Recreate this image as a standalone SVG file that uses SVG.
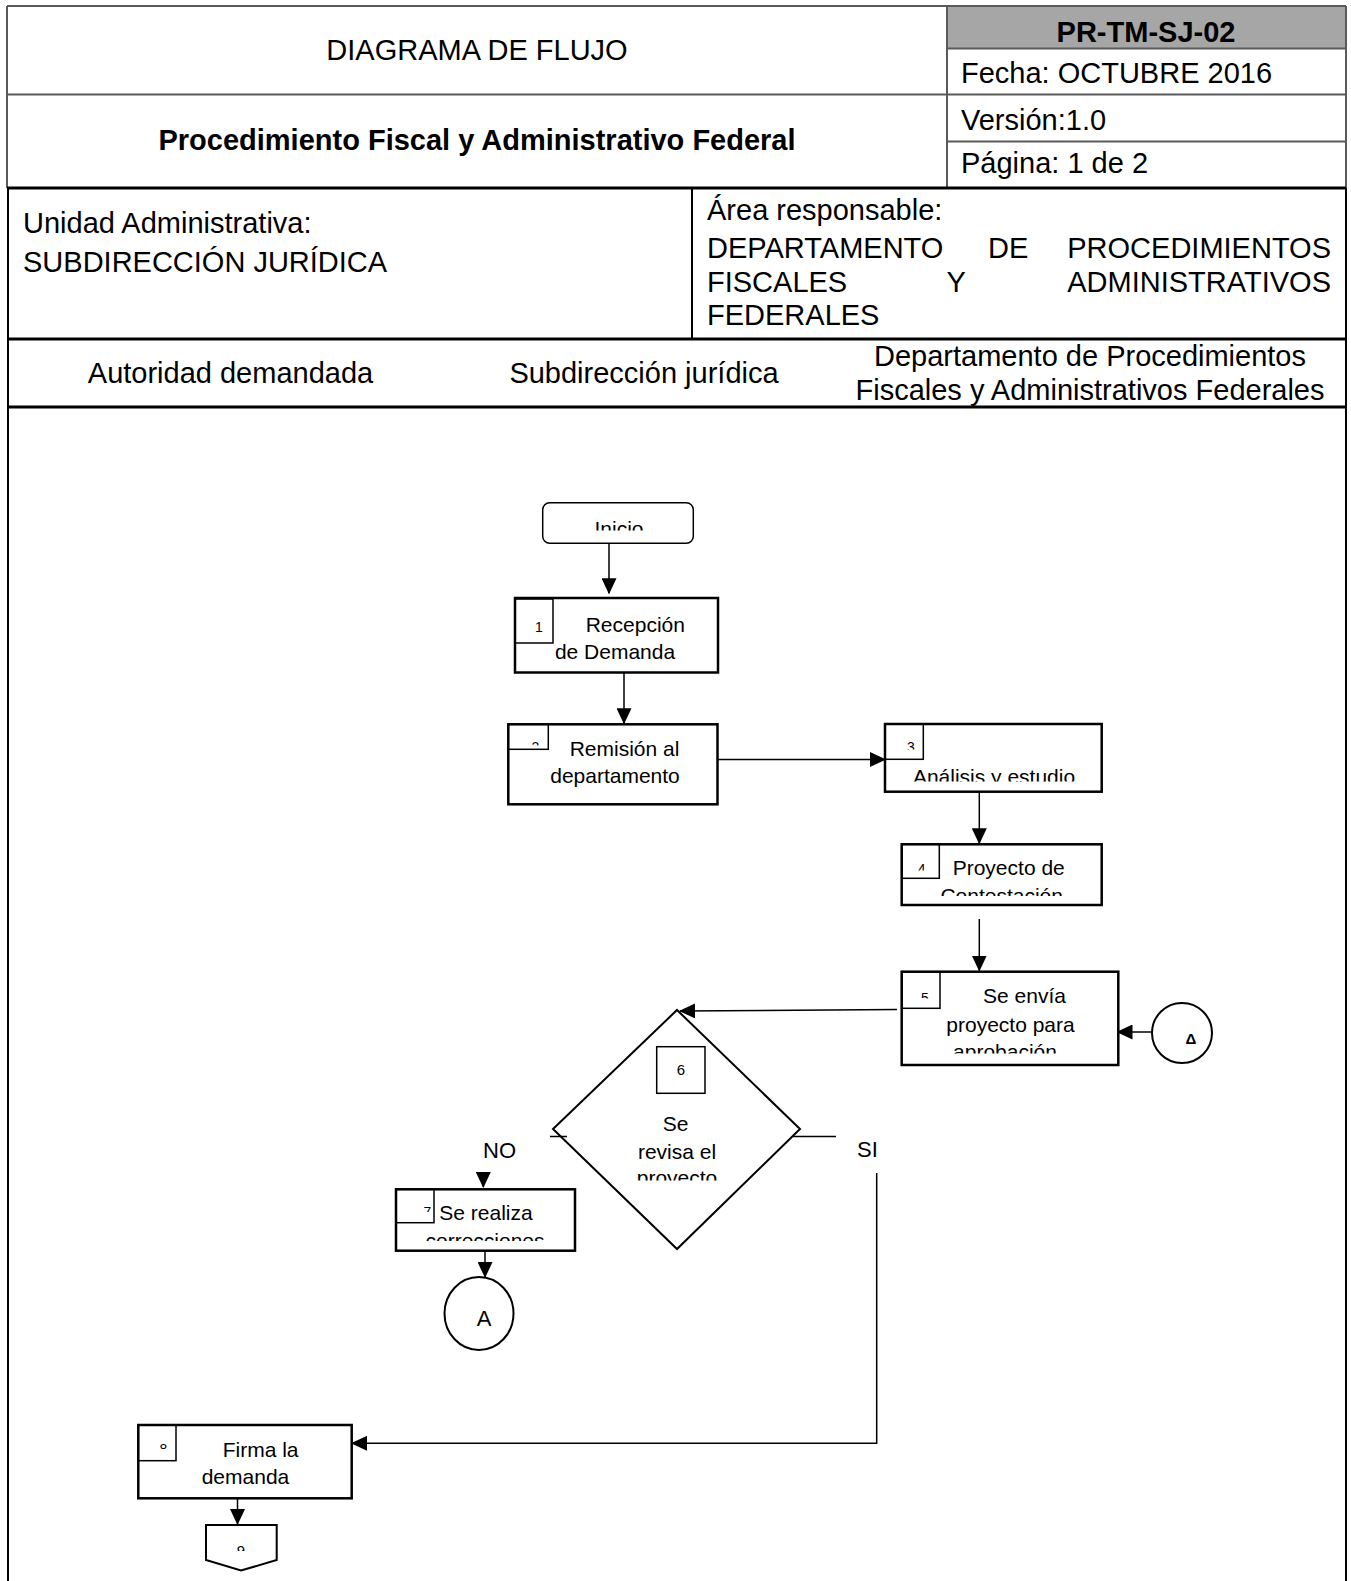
<svg xmlns="http://www.w3.org/2000/svg" width="1351" height="1581" viewBox="0 0 1351 1581">
<defs>
<style>
text{font-family:"Liberation Sans",Arial,sans-serif;fill:#000}
.h{font-size:29px}
.hb{font-size:29px;font-weight:bold}
.n{font-size:21px}
.d{font-size:14px}
.m{text-anchor:middle}
.e{text-anchor:end}
.box{fill:#fff;stroke:#000;stroke-width:2.5}
.nb{fill:none;stroke:#000;stroke-width:1.5}
.c{fill:none;stroke:#000;stroke-width:1.5}
.ca{fill:none;stroke:#000;stroke-width:1.5;marker-end:url(#ah)}
.g{stroke:#5a5a5a;stroke-width:2;fill:none}
.k{stroke:#000;fill:none}
</style>
<marker id="ah" markerWidth="16" markerHeight="15" refX="15" refY="7.5" orient="auto" markerUnits="userSpaceOnUse"><path d="M0,0 L16,7.5 L0,15 z" fill="#000"/></marker>
<clipPath id="c-ini"><rect x="544" y="504" width="148" height="26.5"/></clipPath>
<clipPath id="c-2"><rect x="509" y="725" width="39" height="20.5"/></clipPath>
<clipPath id="c-3"><rect x="886" y="725" width="36" height="24.5"/></clipPath>
<clipPath id="c-3t"><rect x="886" y="760" width="215" height="21.5"/></clipPath>
<clipPath id="c-4"><rect x="902" y="845" width="37" height="25.5"/></clipPath>
<clipPath id="c-4t"><rect x="902" y="880" width="199" height="16"/></clipPath>
<clipPath id="c-5"><rect x="902" y="972" width="38" height="26.5"/></clipPath>
<clipPath id="c-5t"><rect x="902" y="1035" width="216" height="18.5"/></clipPath>
<clipPath id="c-6t"><rect x="600" y="1165" width="160" height="15.5"/></clipPath>
<clipPath id="c-7"><rect x="397" y="1190" width="37" height="22"/></clipPath>
<clipPath id="c-7t"><rect x="397" y="1225" width="178" height="16"/></clipPath>
<clipPath id="c-8"><rect x="139" y="1426" width="37" height="23"/></clipPath>
<clipPath id="c-9"><rect x="207" y="1526" width="69" height="25"/></clipPath>
</defs>
<rect x="0" y="0" width="1351" height="1581" fill="#fff"/>

<g id="header">
<rect x="947" y="6" width="399" height="42.5" fill="#a6a6a6"/>
<path class="g" d="M7,6 H1346 M7,6 V188 M1346,6 V188 M947,6 V188 M947,48.5 H1346 M7,94.5 H1346 M947,141.5 H1346"/>
<path class="k" stroke-width="3" d="M7,188 H1346 M7,339 H1346 M7,407 H1346"/>
<path class="k" stroke-width="2" d="M8,188 V1581 M1346,188 V1581 M692,188 V339"/>
<text class="h m" x="477" y="60">DIAGRAMA DE FLUJO</text>
<text class="hb m" x="477" y="150">Procedimiento Fiscal y Administrativo Federal</text>
<text class="hb m" x="1146" y="42">PR-TM-SJ-02</text>
<text class="h" x="961" y="83">Fecha: OCTUBRE 2016</text>
<text class="h" x="961" y="130">Versión:1.0</text>
<text class="h" x="961" y="173">Página: 1 de 2</text>
<text class="h" x="23" y="233">Unidad Administrativa:</text>
<text class="h" x="23" y="271.5">SUBDIRECCIÓN JURÍDICA</text>
<text class="h" x="707" y="220">Área responsable:</text>
<text class="h" x="707" y="258">DEPARTAMENTO</text>
<text class="h" x="988" y="258">DE</text>
<text class="h e" x="1331" y="258">PROCEDIMIENTOS</text>
<text class="h" x="707" y="291.5">FISCALES</text>
<text class="h" x="946.5" y="291.5">Y</text>
<text class="h e" x="1331" y="291.5">ADMINISTRATIVOS</text>
<text class="h" x="707" y="325">FEDERALES</text>
<text class="h m" x="230.5" y="383">Autoridad demandada</text>
<text class="h m" x="644" y="383">Subdirección jurídica</text>
<text class="h m" x="1090" y="366">Departamento de Procedimientos</text>
<text class="h m" x="1090" y="400">Fiscales y Administrativos Federales</text>
</g>

<g id="inicio">
<rect x="542.7" y="502.7" width="150.6" height="40.6" rx="7" fill="#fff" stroke="#000" stroke-width="1.5"/>
<text class="n m" x="619" y="536" clip-path="url(#c-ini)">Inicio</text>
</g>

<g id="n1">
<rect class="box" x="515" y="598" width="203" height="74.5"/>
<rect class="nb" x="515" y="599" width="38" height="44"/>
<text class="d m" x="539" y="632">1</text>
<text class="n" x="585.7" y="632">Recepción</text>
<text class="n m" x="615" y="659">de Demanda</text>
</g>

<g id="n2">
<rect class="box" x="508.3" y="724.3" width="209.2" height="80"/>
<rect class="nb" x="508.3" y="724.3" width="40" height="25"/>
<text class="d m" x="535.5" y="752" clip-path="url(#c-2)">2</text>
<text class="n m" x="624.5" y="755.5">Remisión al</text>
<text class="n m" x="615" y="783">departamento</text>
</g>

<g id="n3">
<rect class="box" x="885" y="724" width="216.7" height="67.7"/>
<rect class="nb" x="885" y="724" width="38.3" height="35.3"/>
<text class="d m" x="911" y="752" clip-path="url(#c-3)">3</text>
<text class="n m" x="994" y="784" clip-path="url(#c-3t)">Análisis y estudio</text>
</g>

<g id="n4">
<rect class="box" x="901.7" y="844.3" width="200" height="60.7"/>
<rect class="nb" x="901.7" y="844.3" width="37.6" height="34"/>
<text class="d m" x="921.7" y="874" clip-path="url(#c-4)">4</text>
<text class="n" x="952.7" y="875">Proyecto de</text>
<text class="n m" x="1001.7" y="903" clip-path="url(#c-4t)">Contestación</text>
</g>

<g id="n5">
<rect class="box" x="901.7" y="971.7" width="216.6" height="93.3"/>
<rect class="nb" x="901.7" y="971.7" width="38.3" height="36.6"/>
<text class="d m" x="925" y="1003" clip-path="url(#c-5)">5</text>
<text class="n" x="983" y="1003">Se envía</text>
<text class="n m" x="1010.5" y="1031.5">proyecto para</text>
<text class="n m" x="1005" y="1059" clip-path="url(#c-5t)">aprobación</text>
</g>

<g id="conA1">
<circle cx="1182" cy="1033" r="30" fill="#fff" stroke="#000" stroke-width="2"/>
<text class="m" x="1191" y="1044" font-size="15" font-weight="bold">Δ</text>
</g>

<g id="n6">
<polygon points="677,1010 800,1129 677,1249 553,1129" fill="#fff" stroke="#000" stroke-width="2"/>
<rect class="nb" x="656.7" y="1046.7" width="48.3" height="46.6"/>
<text class="m" x="681" y="1075" font-size="15">6</text>
<text class="n m" x="675.5" y="1131">Se</text>
<text class="n m" x="677" y="1159">revisa el</text>
<text class="n m" x="677" y="1185" clip-path="url(#c-6t)">proyecto</text>
</g>

<g id="n7">
<rect class="box" x="396" y="1189.3" width="179" height="61.4"/>
<rect class="nb" x="396" y="1189.3" width="38" height="33.4"/>
<text class="d m" x="427.5" y="1217" clip-path="url(#c-7)">7</text>
<text class="n" x="439.3" y="1220">Se realiza</text>
<text class="n m" x="485" y="1248" clip-path="url(#c-7t)">correcciones</text>
</g>

<g id="conA2">
<ellipse cx="479" cy="1313.5" rx="34.5" ry="36.5" fill="#fff" stroke="#000" stroke-width="2"/>
<text class="m" x="484" y="1326" font-size="22">A</text>
</g>

<g id="n8">
<rect class="box" x="138.3" y="1425" width="213.4" height="73.3"/>
<rect class="nb" x="138.3" y="1425" width="37.7" height="35.7"/>
<text class="d m" x="163.3" y="1454" clip-path="url(#c-8)">8</text>
<text class="n" x="222.7" y="1457">Firma la</text>
<text class="n" x="201.7" y="1484">demanda</text>
</g>

<g id="n9">
<polygon points="206,1525 276.7,1525 276.7,1560 241,1570.5 206,1560" fill="#fff" stroke="#000" stroke-width="2"/>
<text class="m" x="241" y="1556" font-size="15" clip-path="url(#c-9)">9</text>
</g>

<g id="connectors">
<path class="ca" d="M609,543.3 V593.3"/>
<path class="ca" d="M624,672.5 V723.3"/>
<path class="ca" d="M717.5,759.5 H885"/>
<path class="ca" d="M979.3,791.7 V843.3"/>
<path class="ca" d="M979.3,919 V970.5"/>
<path class="ca" d="M1152,1032 H1117.5"/>
<path class="ca" d="M897,1009.5 L680,1011"/>
<path class="c" d="M550,1136.5 H567"/>
<path class="c" d="M793,1136.5 H836"/>
<path class="ca" d="M483.3,1172 V1187"/>
<path class="ca" d="M876.7,1173 V1443.3 H352"/>
<path class="ca" d="M485,1250.7 V1277"/>
<path class="ca" d="M237.5,1498.3 V1524"/>
<text x="483" y="1158" font-size="22">NO</text>
<text x="857" y="1157" font-size="22">SI</text>
</g>
</svg>
